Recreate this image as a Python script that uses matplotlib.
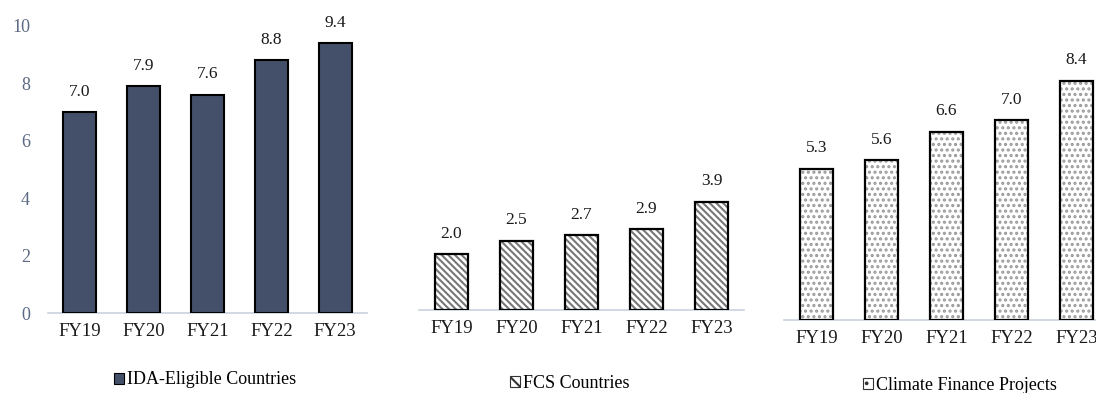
import matplotlib
matplotlib.use("Agg")
import matplotlib.pyplot as plt
from matplotlib.patches import Patch

years = ["FY19", "FY20", "FY21", "FY22", "FY23"]
ida_eligible = [7.0, 7.9, 7.6, 8.8, 9.4]
fcs_countries = [2.0, 2.5, 2.7, 2.9, 3.9]
climate_finance = [5.3, 5.6, 6.6, 7.0, 8.4]
series_names = ["IDA-Eligible Countries", "FCS Countries", "Climate Finance Projects"]

plt.rcParams["font.family"] = ["Liberation Serif", "DejaVu Serif"]
plt.rcParams["hatch.linewidth"] = 1.5

W, H = 1096, 393
fig = plt.figure(figsize=(W / 100, H / 100), dpi=100)


def panel(left, right, base, top):
    return fig.add_axes([left / W, 1 - base / H, (right - left) / W, (base - top) / H])


AXIS_COLOR = "#C9D2E0"
TICK_COLOR = "#5A6882"
DARK = "#44506A"
BAR_W = 0.52


def style(ax, ymax, show_y=False):
    ax.set_ylim(0, ymax)
    ax.set_xlim(-0.5, len(years) - 0.5)
    for s in ["top", "right", "left"]:
        ax.spines[s].set_visible(False)
    ax.spines["bottom"].set_color(AXIS_COLOR)
    ax.spines["bottom"].set_linewidth(1.2)
    ax.set_xticks(range(len(years)))
    ax.set_xticklabels(years, fontsize=13.5, color="#1a1a1a")
    ax.tick_params(axis="x", length=0, pad=7)
    if show_y:
        ax.set_yticks([0, 2, 4, 6, 8, 10])
        ax.tick_params(axis="y", length=0, labelsize=13, labelcolor=TICK_COLOR, pad=13)
    else:
        ax.set_yticks([])
    ax.patch.set_alpha(0)


def labels(ax, vals):
    for i, v in enumerate(vals):
        ax.annotate(f"{v:.1f}", (i, v), xytext=(0, 9), textcoords="offset points",
                    ha="center", va="bottom", fontsize=12.5, color="#1a1a1a",
                    annotation_clip=False)


x = range(len(years))

# Panel 1: solid bars
ax1 = panel(48, 367, 313, 26)
ax1.bar(x, ida_eligible, width=BAR_W, color=DARK, edgecolor="black", linewidth=1.5, zorder=3)
style(ax1, 10, show_y=True)
labels(ax1, ida_eligible)

# Panel 2: diagonal hatch
ax2 = panel(419, 744, 310, 185)
ax2.bar(x, fcs_countries, width=BAR_W, color="white", edgecolor="#777777",
        hatch="\\\\\\\\\\", linewidth=0, zorder=3)
ax2.bar(x, fcs_countries, width=BAR_W, fill=False, edgecolor="black", linewidth=1.6, zorder=4)
style(ax2, 4.5)
labels(ax2, fcs_countries)

# Panel 3: dotted fill
ax3 = panel(784, 1109, 320, 63.5)
ax3.bar(x, climate_finance, width=BAR_W, color="white", edgecolor="#9a9a9a",
        hatch="...", linewidth=0, zorder=3)
ax3.bar(x, climate_finance, width=BAR_W, fill=False, edgecolor="black", linewidth=1.6, zorder=4)
style(ax3, 9)
labels(ax3, climate_finance)

# Legends below each panel
legend_kw = dict(frameon=False, handlelength=0.55, handleheight=0.55,
                 handletextpad=0.15, fontsize=13, loc="center", borderpad=0)
h1 = Patch(facecolor=DARK, edgecolor="black", linewidth=0.8)
h2 = Patch(facecolor="white", edgecolor="#333333", hatch="\\\\", linewidth=0.8)
h3 = Patch(facecolor="white", edgecolor="#333333", hatch="..", linewidth=0.8)
fig.legend([h1], [series_names[0]], bbox_to_anchor=(205 / W, 1 - 380 / H), **legend_kw)
fig.legend([h2], [series_names[1]], bbox_to_anchor=(570 / W, 1 - 383 / H), **legend_kw)
fig.legend([h3], [series_names[2]], bbox_to_anchor=(960 / W, 1 - 385 / H), **legend_kw)

fig.savefig("out.png", dpi=100)
